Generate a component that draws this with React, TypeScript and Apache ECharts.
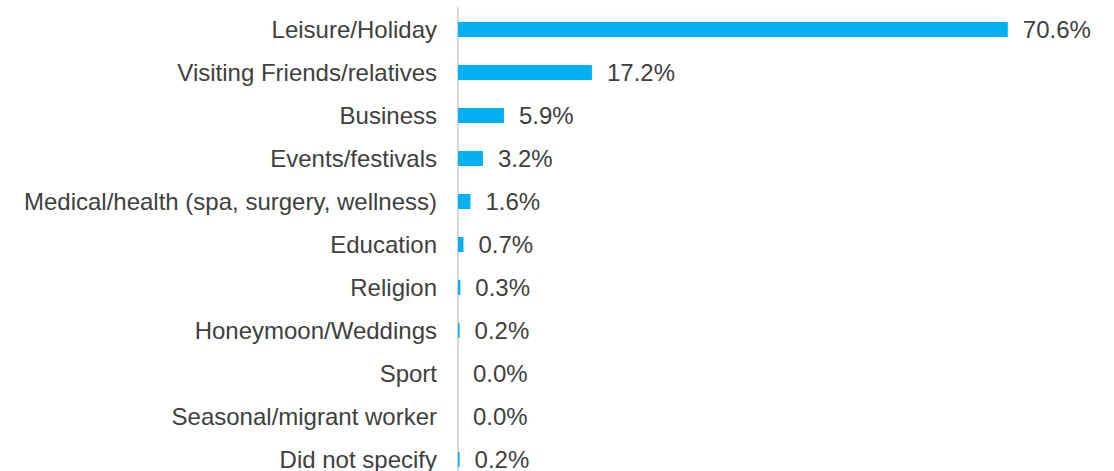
import React, { useEffect, useRef } from "react";
import * as echarts from "echarts";

const categories = [
  "Leisure/Holiday",
  "Visiting Friends/relatives",
  "Business",
  "Events/festivals",
  "Medical/health (spa, surgery, wellness)",
  "Education",
  "Religion",
  "Honeymoon/Weddings",
  "Sport",
  "Seasonal/migrant worker",
  "Did not specify",
];
const values = [70.6, 17.2, 5.9, 3.2, 1.6, 0.7, 0.3, 0.2, 0.0, 0.0, 0.2];

const FONT = "Arial, 'Liberation Sans', sans-serif";

export default function App() {
  const ref = useRef<HTMLDivElement>(null);
  useEffect(() => {
    if (!ref.current) return;
    const chart = echarts.init(ref.current, undefined, { renderer: "svg" });
    chart.setOption({
      animation: false,
      grid: { left: 458, top: 8, width: 623, height: 473, containLabel: false },
      xAxis: {
        type: "value",
        min: 0,
        max: 80,
        show: false,
      },
      yAxis: {
        type: "category",
        inverse: true,
        data: categories,
        axisLine: { show: true, lineStyle: { color: "#D9D9D9", width: 2 } },
        axisTick: { show: false },
        axisLabel: {
          color: "#404040",
          fontSize: 24,
          fontFamily: FONT,
          margin: 21,
        },
        splitLine: { show: false },
      },
      series: [
        {
          type: "bar",
          data: values,
          barWidth: 15,
          itemStyle: { color: "#00B0F0" },
          label: {
            show: true,
            position: "right",
            distance: 15,
            color: "#404040",
            fontSize: 24,
            fontFamily: FONT,
            formatter: (p: any) => Number(p.value).toFixed(1) + "%",
          },
        },
      ],
    });
    return () => chart.dispose();
  }, []);
  return (
    <div style={{ position: "fixed", left: 0, top: 0, width: 1114, height: 471, overflow: "hidden", background: "#fff" }}>
      <div ref={ref} style={{ position: "absolute", left: 0, top: 0, width: 1114, height: 490 }} />
    </div>
  );
}
